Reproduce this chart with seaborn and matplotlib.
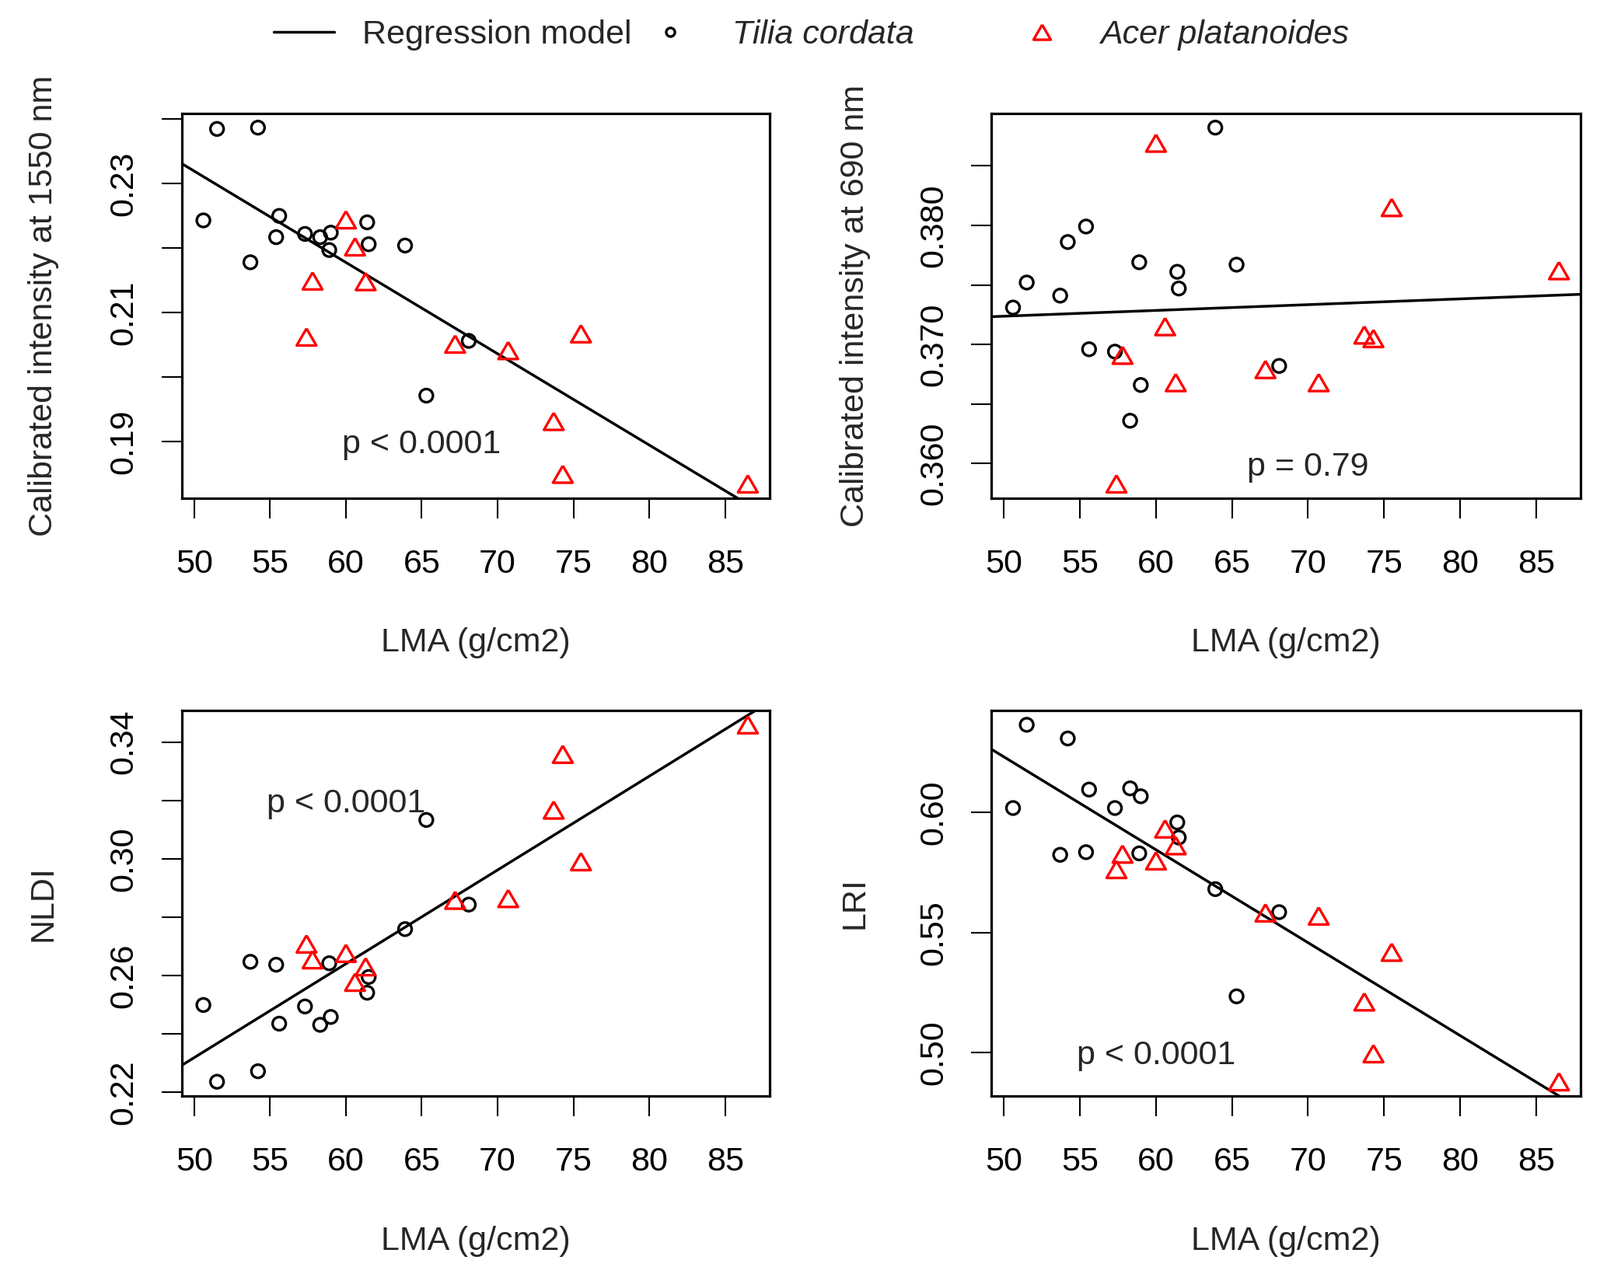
import numpy as np
import pandas as pd
import matplotlib
matplotlib.use('Agg')
import matplotlib.pyplot as plt
import seaborn as sns
from matplotlib.lines import Line2D

# LMA of the sampled leaves
lma_tilia = [50.6, 51.5, 53.7, 54.2, 55.4, 55.6, 57.3, 58.3, 58.9, 59.0, 61.4, 61.5, 63.9, 65.3, 68.1]
lma_acer = [57.4, 57.8, 60.0, 60.6, 61.3, 67.2, 70.7, 73.7, 74.3, 75.5, 86.5]

# calibrated intensity at 1550 nm
int1550_tilia = [0.2243, 0.2385, 0.2178, 0.2387, 0.2217, 0.2250, 0.2222, 0.2217, 0.2197, 0.2224,
                 0.2240, 0.2206, 0.2204, 0.1971, 0.2056]
int1550_acer = [0.2062, 0.2149, 0.2244, 0.2202, 0.2148, 0.2051, 0.2041, 0.1931, 0.1849, 0.2067, 0.1834]

# calibrated intensity at 690 nm
int690_tilia = [0.3731, 0.3752, 0.3741, 0.3786, 0.3799, 0.3696, 0.3694, 0.3636, 0.3769, 0.3666,
                0.3761, 0.3747, 0.3882, 0.3767, 0.3682]
int690_acer = [0.3583, 0.3691, 0.3869, 0.3715, 0.3668, 0.3679, 0.3668, 0.3708, 0.3705, 0.3815, 0.3762]

# NLDI
nldi_tilia = [0.2499, 0.2236, 0.2647, 0.2272, 0.2637, 0.2435, 0.2494, 0.2431, 0.2642, 0.2458,
              0.2541, 0.2595, 0.2759, 0.3133, 0.2843]
nldi_acer = [0.2708, 0.2654, 0.2676, 0.2577, 0.2630, 0.2858, 0.2864, 0.3167, 0.3358, 0.2990, 0.3459]

# LRI
lri_tilia = [0.6019, 0.6366, 0.5824, 0.6309, 0.5835, 0.6096, 0.6019, 0.6101, 0.5830, 0.6068,
             0.5959, 0.5896, 0.5681, 0.5234, 0.5585]
lri_acer = [0.5763, 0.5827, 0.5799, 0.5932, 0.5862, 0.5582, 0.5569, 0.5211, 0.4995, 0.5418, 0.4878]

x_ticks = [50, 55, 60, 65, 70, 75, 80, 85]

sns.set_style('ticks')
plt.rcParams['font.family'] = ['Liberation Sans', 'DejaVu Sans']
FS = 31

# closed equilateral triangle, centred on its bounding box
TRI = [(0, 0.75), (-0.866, -0.75), (0.866, -0.75), (0, 0.75)]


def pad_range(vals, frac=0.04):
    lo, hi = min(vals), max(vals)
    r = hi - lo
    return lo - frac * r, hi + frac * r


def draw_panel(ax, y_tilia, y_acer, ylabel, yticks, ylabels, ptext, ppos, ylab_x):
    df = pd.DataFrame({'LMA': lma_tilia + lma_acer, 'value': y_tilia + y_acer})
    xlim = pad_range(df['LMA'])
    ylim = pad_range(df['value'])
    ax.set_xlim(xlim)
    ax.set_ylim(ylim)

    # pooled regression model
    sns.regplot(data=df, x='LMA', y='value', scatter=False, ci=None, truncate=False,
                color='black', line_kws={'lw': 2.5}, ax=ax)
    sns.scatterplot(x=lma_tilia, y=y_tilia, marker='o', s=150, facecolor='none',
                    edgecolor='black', linewidth=2.4, ax=ax, zorder=3)
    sns.scatterplot(x=lma_acer, y=y_acer, marker=TRI, s=330, facecolor='none',
                    edgecolor='red', linewidth=2.4, ax=ax, zorder=3)
    ax.set_xlim(xlim)
    ax.set_ylim(ylim)

    ax.set_xticks(x_ticks)
    ax.set_xticklabels([str(t) for t in x_ticks])
    ax.set_yticks(yticks)
    ax.set_yticklabels(ylabels, rotation=90, va='center')
    ax.tick_params(axis='both', direction='out', length=18.7, width=1.5,
                   labelsize=FS, color='black', labelcolor='black')
    ax.tick_params(axis='x', pad=28)
    ax.tick_params(axis='y', pad=20)
    for sp in ax.spines.values():
        sp.set_visible(True)
        sp.set_linewidth(2.3)
        sp.set_color('black')

    ax.set_xlabel('LMA (g/cm2)', fontsize=FS)
    ax.xaxis.set_label_coords(0.5, -0.376)
    ax.xaxis.label.set_va('center')
    ax.set_ylabel(ylabel, fontsize=FS)
    ax.yaxis.set_label_coords(ylab_x, 0.5)
    ax.yaxis.label.set_va('center')

    ax.annotate(ptext, xy=ppos, xytext=(0, -11), textcoords='offset points',
                ha='center', va='baseline', fontsize=FS)


fig = plt.figure(figsize=(20.58, 16.39), dpi=100)
ax_tl = fig.add_axes([0.1135, 0.609, 0.3675, 0.302])
ax_tr = fig.add_axes([0.6195, 0.609, 0.3685, 0.302])
ax_bl = fig.add_axes([0.1135, 0.1397, 0.3675, 0.3026])
ax_br = fig.add_axes([0.6195, 0.1397, 0.3685, 0.3026])

draw_panel(ax_tl, int1550_tilia, int1550_acer, 'Calibrated intensity at 1550 nm',
           [0.19, 0.20, 0.21, 0.22, 0.23, 0.24], ['0.19', '', '0.21', '', '0.23', ''],
           'p < 0.0001', (65, 0.19), -0.235)
draw_panel(ax_tr, int690_tilia, int690_acer, 'Calibrated intensity at 690 nm',
           [0.360, 0.365, 0.370, 0.375, 0.380, 0.385], ['0.360', '', '0.370', '', '0.380', ''],
           'p = 0.79', (70, 0.36), -0.231)
draw_panel(ax_bl, nldi_tilia, nldi_acer, 'NLDI',
           [0.22, 0.24, 0.26, 0.28, 0.30, 0.32, 0.34], ['0.22', '', '0.26', '', '0.30', '', '0.34'],
           'p < 0.0001', (60, 0.32), -0.235)
draw_panel(ax_br, lri_tilia, lri_acer, 'LRI',
           [0.50, 0.55, 0.60], ['0.50', '0.55', '0.60'],
           'p < 0.0001', (60, 0.50), -0.231)

# legend across the top
em = FS * 100 / 72
W = 2058
ly = 1 - 45 / 1639
leg1 = fig.legend(handles=[Line2D([], [], color='black', lw=2.5)], labels=['Regression model'],
                  loc='center left', bbox_to_anchor=(352 / W, ly), frameon=False,
                  handlelength=78 / em, handletextpad=36 / em, borderpad=0, borderaxespad=0,
                  fontsize=FS)
leg2 = fig.legend(handles=[Line2D([], [], ls='none', marker='o', ms=8, mfc='none', mec='black', mew=2.4)],
                  labels=['Tilia cordata'], loc='center left',
                  bbox_to_anchor=((862 - em / 2) / W, ly), frameon=False,
                  handlelength=1.0, handletextpad=(942 - 862 - em / 2) / em, borderpad=0,
                  borderaxespad=0, prop={'style': 'italic', 'size': FS})
leg3 = fig.legend(handles=[Line2D([], [], ls='none', marker=TRI, ms=16, mfc='none', mec='red', mew=2.4)],
                  labels=['Acer platanoides'], loc='center left',
                  bbox_to_anchor=((1340 - em / 2) / W, ly), frameon=False,
                  handlelength=1.0, handletextpad=(1415 - 1340 - em / 2) / em, borderpad=0,
                  borderaxespad=0, prop={'style': 'italic', 'size': FS})

fig.savefig('out.png', dpi=100)
